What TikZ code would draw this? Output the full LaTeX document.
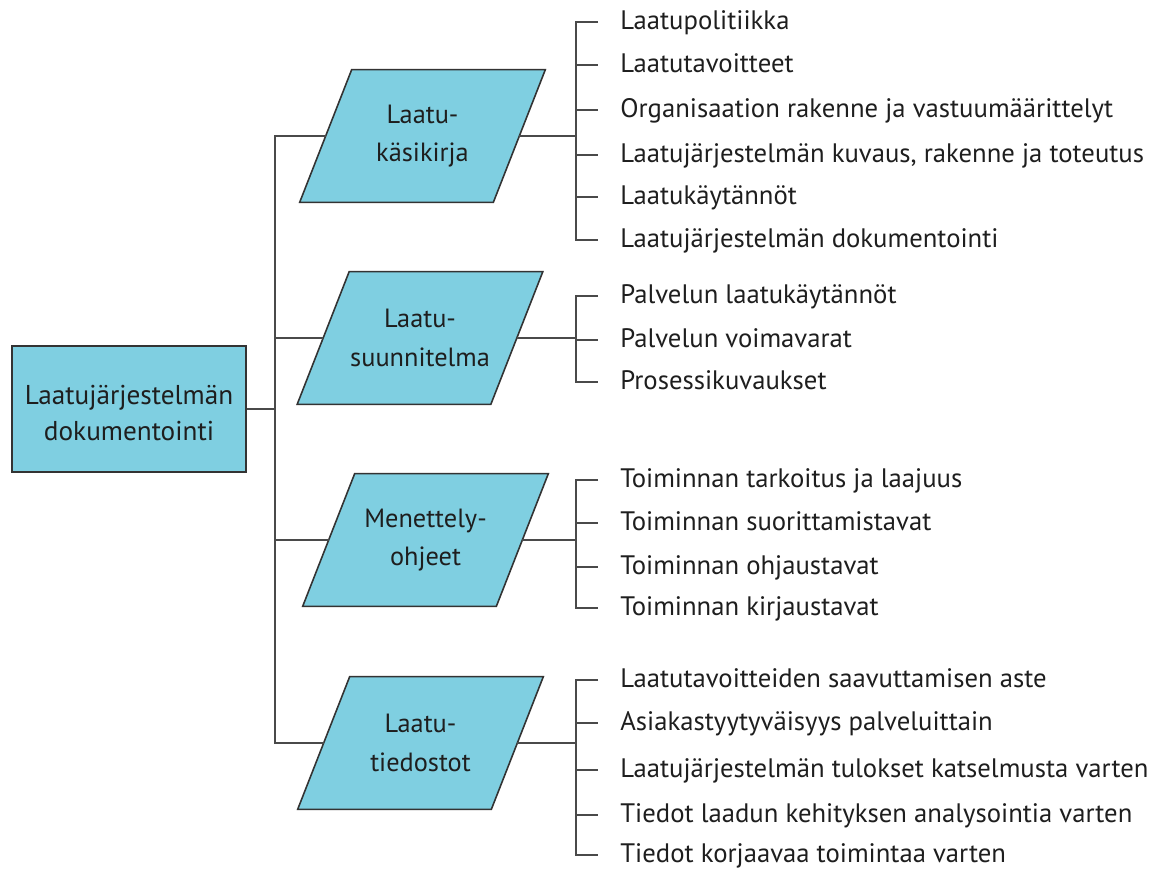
\documentclass[tikz,border=0pt]{standalone}
\usepackage{fontspec}
\setmainfont{PT Sans}
\usetikzlibrary{positioning,backgrounds}

\definecolor{boxblue}{HTML}{7FCFE1}
\definecolor{edgegray}{HTML}{333333}
\definecolor{linegray}{HTML}{4A4A4A}
\definecolor{textgray}{HTML}{1E1E1E}

\tikzset{
  rootbox/.style={draw=edgegray, fill=boxblue, line width=0.9pt, minimum width=4.68cm, minimum height=2.52cm, align=center, text=textgray, font=\fontsize{15.5}{20.5}\selectfont},
  doctext/.style={minimum width=3.86cm, minimum height=2.64cm, inner sep=0pt, align=center, text=textgray, font=\fontsize{15}{22}\selectfont},
  docshape/.style={draw=edgegray, fill=boxblue, line width=0.9pt, line join=miter},
  itemtext/.style={anchor=west, inner xsep=0.44cm, inner ysep=0pt, text height=11pt, text depth=2pt, text=textgray, font=\fontsize{15.2}{18}\selectfont},
  link/.style={draw=linegray, line width=1pt}
}

\begin{document}
\begin{tikzpicture}[x=0.02cm, y=-0.02cm]
 \useasboundingbox (0,0) rectangle (1160,870);

 %Coordinates
 \coordinate (trunk) at (275,0);
 \coordinate (bracket) at (576,0);

 %Main box
 \node (root) [rootbox] at (129,409) {\rule{0pt}{16pt}Laatujärjestelmän\\dokumentointi};

 %Documents
 \node (kasikirja) [doctext] at (422.5,136) {Laatu-\\käsikirja};
 \node (suunnitelma) [doctext] at (420,338) {Laatu-\\suunnitelma};
 \node (ohjeet) [doctext] at (425.5,540) {Menettely-\\ohjeet};
 \node (tiedostot) [doctext] at (420.5,743) {Laatu-\\tiedostot};

 \begin{scope}[on background layer]
 \foreach \n in {kasikirja,suunnitelma,ohjeet,tiedostot}
  \draw[docshape] ([xshift=0.52cm]\n.north west) -- ([xshift=0.52cm]\n.north east) -- ([xshift=-0.52cm]\n.south east) -- ([xshift=-0.52cm]\n.south west) -- cycle;
 \end{scope}

 %Contents
 \foreach \i/\y/\txt in {1/22/Laatupolitiikka, 2/65/Laatutavoitteet, 3/110/Organisaation rakenne ja vastuumäärittelyt, 4/155/{Laatujärjestelmän kuvaus, rakenne ja toteutus}, 5/197/Laatukäytännöt, 6/240/Laatujärjestelmän dokumentointi}
  \node (ka\i) [itemtext] at (598,\y) {\txt};

 \foreach \i/\y/\txt in {1/296/Palvelun laatukäytännöt, 2/340/Palvelun voimavarat, 3/382/Prosessikuvaukset}
  \node (su\i) [itemtext] at (598,\y) {\txt};

 \foreach \i/\y/\txt in {1/480/Toiminnan tarkoitus ja laajuus, 2/523/Toiminnan suorittamistavat, 3/567/Toiminnan ohjaustavat, 4/608/Toiminnan kirjaustavat}
  \node (oh\i) [itemtext] at (598,\y) {\txt};

 \foreach \i/\y/\txt in {1/680/Laatutavoitteiden saavuttamisen aste, 2/723/Asiakastyytyväisyys palveluittain, 3/770/Laatujärjestelmän tulokset katselmusta varten, 4/815/Tiedot laadun kehityksen analysointia varten, 5/855/Tiedot korjaavaa toimintaa varten}
  \node (ti\i) [itemtext] at (598,\y) {\txt};

 %Trunk
 \draw[link] (root.east) -- (root.east -| trunk);
 \draw[link] (kasikirja.west) -- (kasikirja.west -| trunk) -- (tiedostot.west -| trunk) -- (tiedostot.west);
 \draw[link] (suunnitelma.west -| trunk) -- (suunnitelma.west);
 \draw[link] (ohjeet.west -| trunk) -- (ohjeet.west);

 %Brackets
 \draw[link] (kasikirja.east) -- (kasikirja.east -| bracket);
 \draw[link] (ka1.west) -- (ka1.west -| bracket) -- (ka6.west -| bracket) -- (ka6.west);
 \foreach \i in {2,...,5}
  \draw[link] (ka\i.west -| bracket) -- (ka\i.west);

 \draw[link] (suunnitelma.east) -- (suunnitelma.east -| bracket);
 \draw[link] (su1.west) -- (su1.west -| bracket) -- (su3.west -| bracket) -- (su3.west);
 \draw[link] (su2.west -| bracket) -- (su2.west);

 \draw[link] (ohjeet.east) -- (ohjeet.east -| bracket);
 \draw[link] (oh1.west) -- (oh1.west -| bracket) -- (oh4.west -| bracket) -- (oh4.west);
 \foreach \i in {2,3}
  \draw[link] (oh\i.west -| bracket) -- (oh\i.west);

 \draw[link] (tiedostot.east) -- (tiedostot.east -| bracket);
 \draw[link] (ti1.west) -- (ti1.west -| bracket) -- (ti5.west -| bracket) -- (ti5.west);
 \foreach \i in {2,...,4}
  \draw[link] (ti\i.west -| bracket) -- (ti\i.west);

\end{tikzpicture}
\end{document}
